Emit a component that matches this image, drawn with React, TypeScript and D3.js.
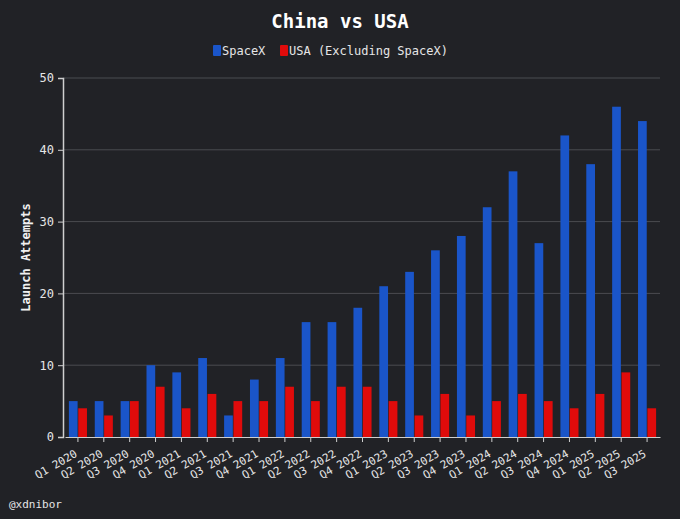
import React, { useEffect, useRef } from "react";
import * as d3 from "d3";

const quarters = [
  "Q1 2020", "Q2 2020", "Q3 2020", "Q4 2020",
  "Q1 2021", "Q2 2021", "Q3 2021", "Q4 2021",
  "Q1 2022", "Q2 2022", "Q3 2022", "Q4 2022",
  "Q1 2023", "Q2 2023", "Q3 2023", "Q4 2023",
  "Q1 2024", "Q2 2024", "Q3 2024", "Q4 2024",
  "Q1 2025", "Q2 2025", "Q3 2025",
];
const spacex = [5, 5, 5, 10, 9, 11, 3, 8, 11, 16, 16, 18, 21, 23, 26, 28, 32, 37, 27, 42, 38, 46, 44];
const usaExSpacex = [4, 3, 5, 7, 4, 6, 5, 5, 7, 5, 7, 7, 5, 3, 6, 3, 5, 6, 5, 4, 6, 9, 4];
const seriesNames = ["SpaceX", "USA (Excluding SpaceX)"];
const seriesColors = ["#1a55c9", "#e00b0b"];
const yTicks = [0, 10, 20, 30, 40, 50];

const W = 680;
const H = 519;
const FONT = "'DejaVu Sans Mono', 'Liberation Mono', monospace";

const App: React.FC = () => {
  const ref = useRef<SVGSVGElement | null>(null);

  useEffect(() => {
    document.body.style.margin = "0";
    document.body.style.background = "#212226";
    if (!ref.current) return;
    ref.current.innerHTML = "";
    const svg = d3.select(ref.current);

    const margin = { top: 78, right: 20, bottom: 82, left: 63 };
    const x0 = d3
      .scaleBand<string>()
      .domain(quarters)
      .range([margin.left + 2, W - margin.right])
      .paddingInner(0.25)
      .paddingOuter(0.125);
    const x1 = d3
      .scaleBand<number>()
      .domain([0, 1])
      .range([0, x0.bandwidth()])
      .padding(0.07);
    const y = d3
      .scaleLinear()
      .domain([0, 50])
      .range([H - margin.bottom, margin.top]);

    svg.append("rect").attr("width", W).attr("height", H).attr("fill", "#212226");

    // gridlines
    svg
      .append("g")
      .selectAll("line")
      .data(yTicks.slice(1))
      .join("line")
      .attr("x1", margin.left)
      .attr("x2", W - margin.right)
      .attr("y1", (d) => y(d))
      .attr("y2", (d) => y(d))
      .attr("stroke", "#4b4c50")
      .attr("stroke-width", 1);

    // bars
    const groups = svg
      .append("g")
      .selectAll("g")
      .data(quarters)
      .join("g")
      .attr("transform", (d) => `translate(${x0(d)},0)`);
    groups
      .selectAll("rect")
      .data((d, i) => [spacex[i], usaExSpacex[i]])
      .join("rect")
      .attr("x", (_, j) => x1(j)!)
      .attr("width", x1.bandwidth())
      .attr("y", (v) => y(v))
      .attr("height", (v) => y(0) - y(v))
      .attr("fill", (_, j) => seriesColors[j]);

    // y axis
    const yAxis = svg
      .append("g")
      .attr("transform", `translate(${margin.left},0)`)
      .call(d3.axisLeft(y).tickValues(yTicks).tickSize(5).tickPadding(4));
    yAxis.select(".domain").attr("stroke", "#cfcfcf").attr("stroke-width", 1.5);
    yAxis.selectAll(".tick line").attr("stroke", "#cfcfcf");
    yAxis
      .selectAll("text")
      .attr("fill", "#e6e6e6")
      .style("font-family", FONT)
      .style("font-size", "12px");

    // x axis
    const xAxis = svg
      .append("g")
      .attr("transform", `translate(0,${y(0)})`)
      .call(d3.axisBottom(x0).tickSize(5).tickSizeOuter(0));
    xAxis.select(".domain").attr("stroke", "#cfcfcf");
    xAxis.selectAll(".tick line").attr("stroke", "#cfcfcf");
    xAxis
      .selectAll("text")
      .attr("fill", "#e6e6e6")
      .style("font-family", FONT)
      .style("font-size", "11px")
      .attr("text-anchor", "end")
      .attr("y", 0)
      .attr("dy", 0)
      .attr("transform", "translate(0,19) rotate(-30)");

    // y label
    svg
      .append("text")
      .attr("transform", `translate(30,${(y(0) + y(50)) / 2}) rotate(-90)`)
      .attr("text-anchor", "middle")
      .attr("fill", "#f0f0f0")
      .style("font-family", FONT)
      .style("font-size", "12px")
      .style("font-weight", "bold")
      .text("Launch Attempts");

    // title
    svg
      .append("text")
      .attr("x", W / 2)
      .attr("y", 28)
      .attr("text-anchor", "middle")
      .attr("fill", "#ffffff")
      .style("font-family", FONT)
      .style("font-size", "19px")
      .style("font-weight", "bold")
      .text("China vs USA");

    // legend
    const legend = svg.append("g").attr("transform", "translate(213,45)");
    const offsets = [0, 67];
    seriesNames.forEach((name, i) => {
      const g = legend.append("g").attr("transform", `translate(${offsets[i]},0)`);
      g.append("rect")
        .attr("width", 8)
        .attr("height", 11)
        .attr("y", 0)
        .attr("rx", 1)
        .attr("fill", seriesColors[i]);
      g.append("text")
        .attr("x", 9)
        .attr("y", 10)
        .attr("fill", "#e6e6e6")
        .style("font-family", FONT)
        .style("font-size", "12px")
        .text(name);
    });

    // watermark
    svg
      .append("text")
      .attr("x", 9)
      .attr("y", 508)
      .attr("fill", "#e6e6e6")
      .style("font-family", FONT)
      .style("font-size", "11px")
      .text("@xdnibor");
  }, []);

  return <svg ref={ref} width={W} height={H} style={{ display: "block" }} />;
};

export default App;
